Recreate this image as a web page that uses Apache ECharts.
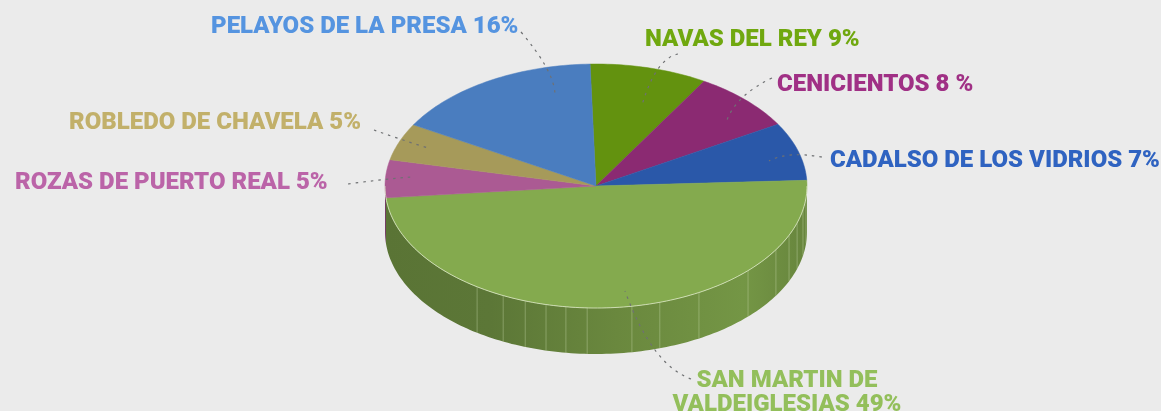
<!DOCTYPE html>
<html><head><meta charset="utf-8">
<style>html,body{margin:0;padding:0;background:#ebebeb}#c{width:1161px;height:411px}</style>
<script src="https://cdn.jsdelivr.net/npm/echarts@6/dist/echarts.min.js"></script>
</head><body><div id="c"></div>
<script>
const names = ['NAVAS DEL REY','CENICIENTOS','CADALSO DE LOS VIDRIOS','SAN MARTIN DE VALDEIGLESIAS','ROZAS DE PUERTO REAL','ROBLEDO DE CHAVELA','PELAYOS DE LA PRESA'];
const shares = [9, 8, 7.7, 49.2, 5, 4.9, 16.2];
const labelLines = [['NAVAS DEL REY 9%'],['CENICIENTOS 8 %'],['CADALSO DE LOS VIDRIOS 7%'],['SAN MARTIN DE','VALDEIGLESIAS 49%'],['ROZAS DE PUERTO REAL 5%'],['ROBLEDO DE CHAVELA 5%'],['PELAYOS DE LA PRESA 16%']];

const sliceColors = ['#63920f','#8b2a72','#2a58a9','#84aa4e','#ab5a93','#a69a5a','#4a7dbf'];
const labelColors = ['#70a80f','#a03085','#2f63c1','#93bf5b','#bb64a8','#c2b06a','#5594e0'];

const pie = {cx:596, cy:186, rx:211, ry:122, depth:46, startDeg:91.6};
const labelPos = [
  {x:645,y:40,align:'left'},{x:777,y:85,align:'left'},{x:830,y:161,align:'left'},
  {x:787,y:381,align:'center'},{x:15,y:183,align:'left'},{x:69,y:123,align:'left'},{x:211,y:27,align:'left'}
];
const leaders = [
  [[678,54],[658,69],[642,105]],[[772,78],[743,97],[727,120]],[[822,157],[791,155],[769,161]],
  [[691,379],[655,350],[625,291]],[[348,184],[380,180],[411,177]],[[374,130],[400,139],[428,148]],[[521,32],[546,67],[555,94]]
];
const ribDeg = [-124.3,-116.1,-109.6,-103.7,-98.2,-92.4,-80.2,-72.4,-60.8,-43.9,-31.5,-23.8,-17.6,-11.2,-5.5];

function pt(deg, dy){const r=deg*Math.PI/180;return [pie.cx+pie.rx*Math.cos(r), pie.cy-pie.ry*Math.sin(r)+(dy||0)];}
function arc(a,b,dy){const n=Math.max(2,Math.ceil(Math.abs(a-b)/1.2));const o=[];for(let i=0;i<=n;i++)o.push(pt(a+(b-a)*i/n,dy));return o;}
function shade(hex,f){const n=parseInt(hex.slice(1),16);const c=[(n>>16)&255,(n>>8)&255,n&255].map(v=>Math.round(v*f));return 'rgb('+c.join(',')+')';}

const total = shares.reduce((a,b)=>a+b,0);
function span(i, api){
  let before=0; for(let k=0;k<i;k++) before+=shares[k];
  const a=pie.startDeg-before/total*360;
  return [a, a-api.value(0)/total*360];
}
function renderWall(params, api){
  const i=params.dataIndex, kids=[], s=span(i,api), a=s[0], b=s[1], col=sliceColors[i];
  for(let turn=-360;turn<=0;turn+=360){
    const lo=Math.max(b,turn-180), hi=Math.min(a,turn);
    if(hi<=lo) continue;
    const topEdge=arc(hi,lo,0), botEdge=arc(lo,hi,pie.depth);
    kids.push({type:'polygon',silent:true,shape:{points:topEdge.concat(botEdge)},style:{
      fill:new echarts.graphic.LinearGradient(pie.cx-pie.rx,0,pie.cx+pie.rx,0,[
        {offset:0,color:shade(col,0.68)},{offset:0.25,color:shade(col,0.7)},
        {offset:0.55,color:shade(col,0.8)},{offset:0.85,color:shade(col,0.88)},{offset:1,color:shade(col,0.78)}],true)}});
    ribDeg.forEach(d=>{
      const dd=[d,d-360].find(v=>v<=hi&&v>=lo);
      if(dd===undefined)return;
      const p=pt(dd,0),q=pt(dd,pie.depth);
      kids.push({type:'line',silent:true,shape:{x1:p[0],y1:p[1],x2:q[0],y2:q[1]},style:{stroke:'rgba(205,220,175,0.38)',lineWidth:1}});
    });
  }
  return {type:'group',children:kids};
}
function renderTop(params, api){
  const i=params.dataIndex, s=span(i,api);
  const pts=[[pie.cx,pie.cy]].concat(arc(s[0],s[1],0));
  const kids=[{type:'polygon',silent:true,z2:10,shape:{points:pts},style:{fill:sliceColors[i],stroke:sliceColors[i],lineWidth:0.5}}];
  const lo=Math.max(s[1],-180),hi=Math.min(s[0],0);
  if(hi>lo) kids.push({type:'polyline',silent:true,z2:11,shape:{points:arc(hi,lo,0)},style:{stroke:'rgba(225,235,205,0.75)',lineWidth:1,fill:null}});
  return {type:'group',children:kids};
}
function renderLabel(params, api){
  const i=params.dataIndex, kids=[], L=leaders[i];
  const cp=[2*L[1][0]-(L[0][0]+L[2][0])/2, 2*L[1][1]-(L[0][1]+L[2][1])/2];
  kids.push({type:'bezierCurve',silent:true,z2:100,shape:{x1:L[0][0],y1:L[0][1],x2:L[2][0],y2:L[2][1],cpx1:cp[0],cpy1:cp[1]},
    style:{stroke:'#6f7173',lineWidth:1.2,lineDash:[2.5,5],fill:null}});
  labelLines[i].forEach((t,j)=>{
    kids.push({type:'text',silent:true,z2:100,style:{text:t,x:labelPos[i].x,y:labelPos[i].y+j*24,align:labelPos[i].align,verticalAlign:'middle',
      fill:labelColors[i],font:'900 24px Roboto'}});
  });
  return {type:'group',children:kids};
}
const seriesData = shares.map((v,i)=>({name:names[i],value:[v]}));
const common={type:'custom',coordinateSystem:'none',data:seriesData,silent:true,animation:false,encode:{value:0}};
const chart=echarts.init(document.getElementById('c'),null,{renderer:'canvas'});
chart.setOption({
  backgroundColor:'#ebebeb',animation:false,tooltip:{show:false},
  series:[
    Object.assign({},common,{z:1,renderItem:renderWall}),
    Object.assign({},common,{z:2,renderItem:renderTop}),
    Object.assign({},common,{z:5,renderItem:renderLabel})
  ]
});
</script></body></html>
